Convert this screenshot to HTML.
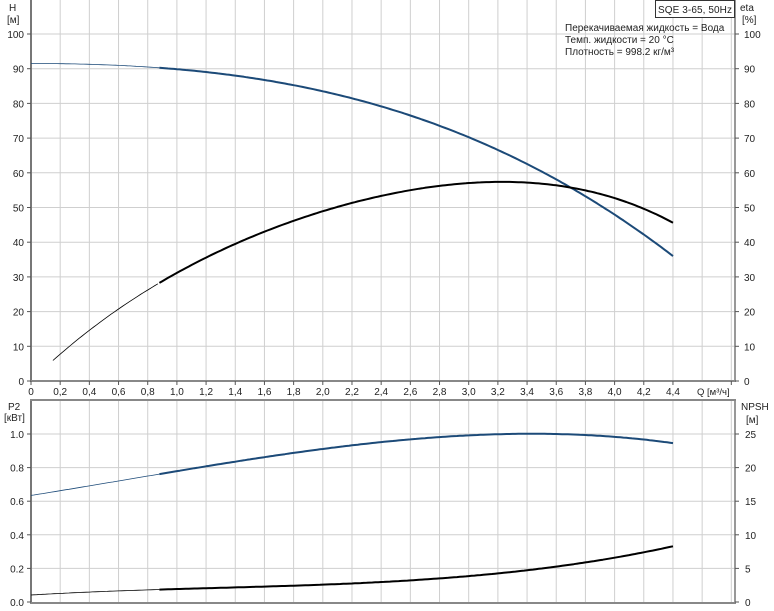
<!DOCTYPE html>
<html><head><meta charset="utf-8"><style>
body{margin:0;background:#fff;}
svg{display:block;font-family:"Liberation Sans",sans-serif;font-size:10px;fill:#222;}
</style></head><body>
<svg id="s" width="774" height="611" xmlns="http://www.w3.org/2000/svg">
<rect width="774" height="611" fill="#fff"/>
<g id="grid" stroke="#cfcfcf" stroke-width="1"></g>
<g id="axes"></g>
<g id="lbl"></g>
<g id="curves" fill="none"></g>
<rect x="655.5" y="0.5" width="79" height="17" fill="#fff" stroke="#333"/>
<text x="658" y="13" font-size="10" textLength="74">SQE 3-65, 50Hz</text>
<text x="740" y="11">eta</text><text x="742" y="23">[%]</text>
<text x="565" y="31">Перекачиваемая жидкость = Вода</text>
<text x="565" y="43">Темп. жидкости = 20 °C</text>
<text x="565" y="55">Плотность = 998.2 кг/м³</text>
<text x="9" y="11">H</text><text x="7" y="23">[м]</text>
<text x="8" y="410">P2</text><text x="4" y="421">[кВт]</text>
<text x="741" y="410">NPSH</text><text x="746" y="423">[м]</text>
<text x="697" y="395" font-size="9.5">Q [м³/ч]</text>
</svg>
<script>
const NS="http://www.w3.org/2000/svg";
function el(p,t,a,txt){const e=document.createElementNS(NS,t);for(const k in a)e.setAttribute(k,a[k]);if(txt!==undefined)e.textContent=txt;document.getElementById(p).appendChild(e);return e;}
const X=q=>31+q*145.9;
const Yt=v=>381-v*3.47;
const Yp=v=>602-v*168;
const Yn=v=>602-v*6.72;
for(let i=1;i<=24;i++){const x=X(i*0.2);el("grid","line",{x1:x,x2:x,y1:0,y2:381});el("grid","line",{x1:x,x2:x,y1:400,y2:602});}
for(let v=10;v<=100;v+=10){el("grid","line",{x1:31,x2:735,y1:Yt(v),y2:Yt(v)});}
for(let v=0.2;v<=1.01;v+=0.2){el("grid","line",{x1:31,x2:735,y1:Yp(v),y2:Yp(v)});}
el("axes","line",{x1:31,x2:31,y1:0,y2:382,stroke:"#777","stroke-width":2});
el("axes","line",{x1:735,x2:735,y1:0,y2:382,stroke:"#777","stroke-width":1.5});
el("axes","line",{x1:30,x2:736,y1:381,y2:381,stroke:"#888","stroke-width":2});
el("axes","line",{x1:31,x2:31,y1:399,y2:603,stroke:"#777","stroke-width":2});
el("axes","line",{x1:735,x2:735,y1:399,y2:603,stroke:"#777","stroke-width":1.5});
el("axes","line",{x1:30,x2:736,y1:400,y2:400,stroke:"#888","stroke-width":2});
el("axes","line",{x1:30,x2:736,y1:603,y2:603,stroke:"#888","stroke-width":2});
for(let v=0;v<=100;v+=10){const y=Yt(v);el("axes","line",{x1:27,x2:31,y1:y,y2:y,stroke:"#555"});el("axes","line",{x1:735,x2:739,y1:y,y2:y,stroke:"#555"});
el("lbl","text",{x:24,y:y+4,"text-anchor":"end"},v);el("lbl","text",{x:744,y:y+4},v);}
for(let i=0;i<=22;i++){const q=i*0.2,x=X(q);el("axes","line",{x1:x,x2:x,y1:381,y2:385,stroke:"#555"});
el("lbl","text",{x:x,y:395,"text-anchor":"middle"},i==0?"0":q.toFixed(1).replace(".",","));}
el("axes","line",{x1:X(4.8),x2:X(4.8),y1:381,y2:385,stroke:"#555"});
for(let i=0;i<=5;i++){const v=i*0.2,y=Yp(v);el("axes","line",{x1:27,x2:31,y1:y,y2:y,stroke:"#555"});el("lbl","text",{x:24,y:y+4,"text-anchor":"end"},v.toFixed(1));}
for(let v=0;v<=25;v+=5){const y=Yn(v);el("axes","line",{x1:735,x2:739,y1:y,y2:y,stroke:"#555"});el("lbl","text",{x:745,y:y+4},v);}
// least squares polynomial fit
function fit(data,deg){const n=deg+1;const A=[...Array(n)].map(()=>Array(n+1).fill(0));
for(const [x,y] of data){for(let i=0;i<n;i++){for(let j=0;j<n;j++)A[i][j]+=Math.pow(x,i+j);A[i][n]+=y*Math.pow(x,i);}}
for(let i=0;i<n;i++){let m=i;for(let k=i+1;k<n;k++)if(Math.abs(A[k][i])>Math.abs(A[m][i]))m=k;[A[i],A[m]]=[A[m],A[i]];
for(let k=0;k<n;k++)if(k!=i){const f=A[k][i]/A[i][i];for(let j=i;j<=n;j++)A[k][j]-=f*A[i][j];}}
const c=A.map((r,i)=>r[n]/r[i]);return x=>c.reduce((s,ci,i)=>s+ci*Math.pow(x,i),0);}
function curve(f,q0,q1,Y,col,split){function seg(a,b,w){let d="";for(let q=a;q<=b+1e-9;q+=0.02){d+=(d?"L":"M")+X(q).toFixed(1)+","+Y(f(q)).toFixed(1);}
el("curves","path",{d:d,stroke:col,"stroke-width":w,"stroke-linejoin":"round"});}
if(q0<split)seg(q0,split,0.8);seg(split,q1,2);}
const B="#1c4a78";
curve(q=>91.5-1.278*q*q-0.361*q*q*q,0,4.4,Yt,B,0.88);
curve(fit([[0.15,6],[0.5,17.5],[0.88,28.5],[1.2,35.5],[1.6,43],[2.0,49],[2.6,55],[3.2,57.2],[3.5,57],[3.8,54.8],[4.1,51.5],[4.4,45.5]],4),0.15,4.4,Yt,"#000",0.88);
curve(fit([[0,0.635],[0.4,0.69],[0.88,0.76],[1.4,0.84],[2.0,0.91],[2.6,0.965],[3.0,0.99],[3.4,1.005],[3.8,0.995],[4.1,0.975],[4.4,0.945]],3),0,4.4,Yp,B,0.88);
curve(fit([[0,1.1],[0.4,1.4],[0.88,1.85],[1.5,2.2],[2.0,2.6],[2.6,3.3],[3.0,3.9],[3.4,4.7],[3.8,5.8],[4.1,6.9],[4.4,8.4]],3),0,4.4,Yn,"#000",0.88);
</script>
</body></html>
